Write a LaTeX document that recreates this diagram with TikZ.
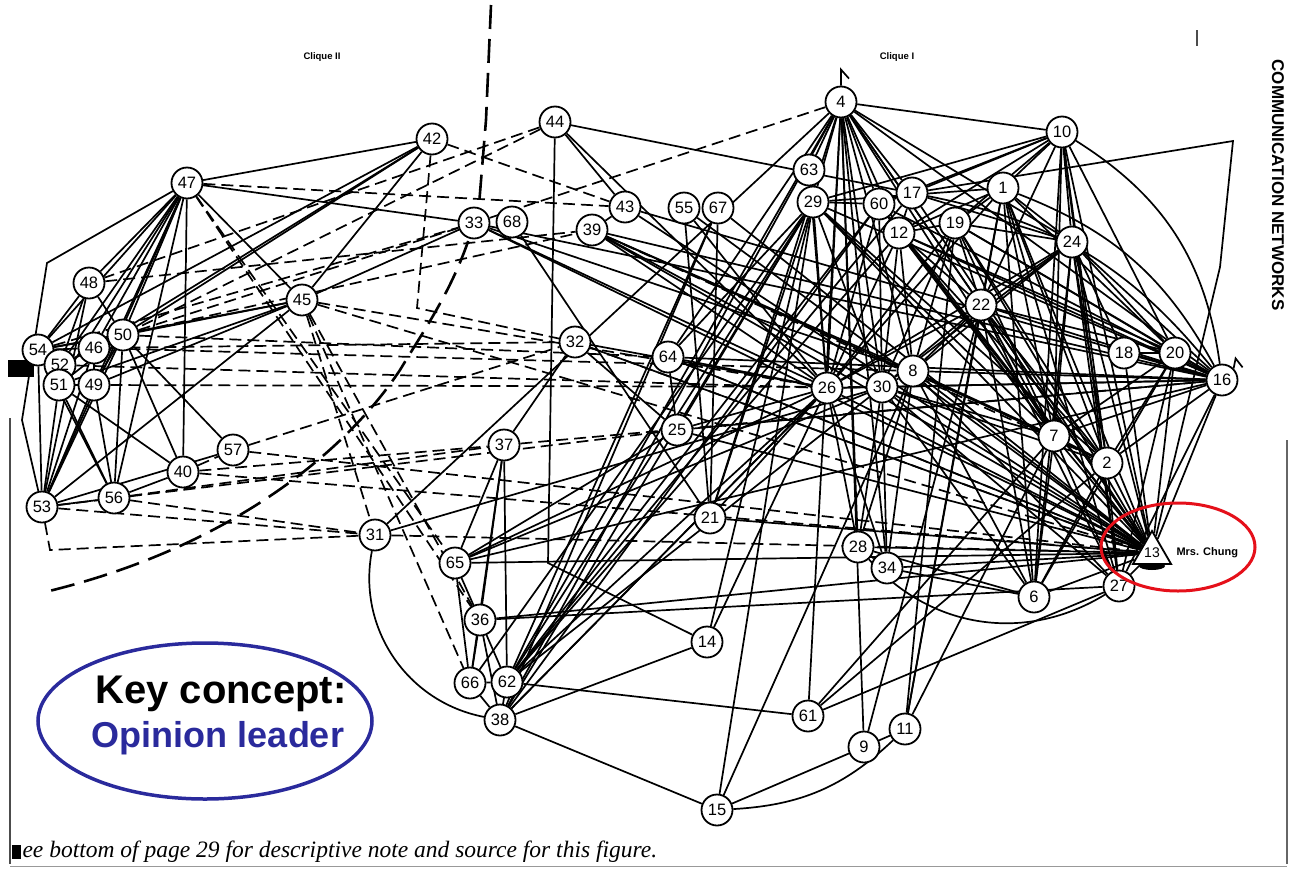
\documentclass[tikz,border=0pt]{standalone}
\usepackage{fontspec}
\usepackage{xcolor}
\usepackage{tikz}
\usetikzlibrary{shapes.geometric,backgrounds}
\newfontfamily\netfont{Liberation Sans}
\newfontfamily\notefont{Liberation Serif}
\definecolor{chungred}{HTML}{E5101A}
\definecolor{keyblue}{HTML}{2A2A9C}
\tikzset{
  person/.style={circle,draw,fill=white,line width=1.8pt,minimum size=31pt,inner sep=0pt,
    font=\netfont\fontsize{16.5}{16.5}\selectfont},
  tie/.style={line width=1.7pt},
  weak/.style={line width=1.7pt,dash pattern=on 12pt off 6pt},
  divide/.style={line width=2.6pt,dash pattern=on 24pt off 10pt},
  cliquename/.style={font=\netfont\bfseries\fontsize{9.5}{9.5}\selectfont},
}

\begin{document}
\begin{tikzpicture}[x=1pt,y=-1pt]
	\useasboundingbox (0,0) rectangle (1290,873);
	% villagers
	\foreach \n/\x/\y in {4/841/102, 44/555/122, 42/432/139, 47/187/183, 10/1062/132,
			63/809/170, 29/813/202, 60/879/204, 17/912/193, 1/1003/188, 19/955/223,
			12/899/233, 24/1072/242, 22/981/305, 43/625/207, 55/684/208, 67/718/208,
			33/474/223, 68/512/222, 39/592/230, 48/89/283, 45/302/300, 50/123/335,
			54/38/350, 46/94/348, 52/60/365, 51/59/385, 49/94/385, 32/575/342,
			64/668/357, 18/1124/353, 20/1175/353, 16/1222/380, 26/827/388, 30/882/387,
			8/913/371, 7/1054/436, 25/677/430, 37/504/445, 2/1107/463, 57/233/450,
			40/183/472, 53/42/507, 56/114/498, 21/710/518, 31/375/535, 28/858/547,
			34/887/568, 65/455/563, 6/1034/597, 27/1119/586, 36/480/620, 14/707/642,
			66/470/683, 62/507/682, 38/500/720, 61/808/716, 11/905/729, 9/864/747,
			15/717/810}
		\node[person] (n\n) at (\x,\y) {\n};
	\node[person,regular polygon,regular polygon sides=3,minimum size=38pt,
		font=\netfont\fontsize{14}{14}\selectfont] (n13) at (1152,553) {13};

	\begin{scope}[on background layer]
		% clique II
		\foreach \a/\b in {47/42, 47/33, 47/48, 47/54, 47/46, 47/52, 47/51, 47/49, 47/50,
				47/53, 47/40, 47/45, 47/56, 42/45, 42/50, 42/46, 42/54, 45/54, 45/50,
				45/51, 45/49, 45/33, 45/53, 48/54, 48/50, 48/53, 48/52, 50/54, 50/46,
				50/49, 50/52, 50/51, 50/53, 50/56, 50/40, 50/57, 54/46, 54/52, 54/51,
				54/53, 54/56, 46/52, 46/49, 46/53, 51/49, 51/53, 51/56, 51/40, 49/53,
				49/56, 53/56, 53/57, 56/40}
			\draw[tie] (n\a) -- (n\b);
		% clique I
		\foreach \a/\b in {33/13, 33/8, 33/16, 33/26, 44/43, 44/26, 44/17, 31/4, 31/30,
				4/10, 4/63, 4/29, 4/60, 4/17, 4/12, 4/24, 4/16, 4/22, 4/26, 4/30, 4/28,
				4/34, 4/13, 4/7, 4/64, 4/62, 4/38, 4/21, 4/8, 4/61, 4/9,
				10/1, 10/19, 10/17, 10/24, 10/13, 10/20, 10/2, 10/7, 10/22, 10/6, 10/27,
				10/12, 10/29, 10/60, 1/19, 1/24, 1/22, 1/13, 1/20, 1/7, 1/2, 1/6, 1/27,
				1/12, 1/29, 1/26, 19/12, 19/22, 19/24, 19/16, 19/13, 19/20, 19/7, 19/2,
				19/30, 19/8, 19/26, 17/12, 17/60, 17/24, 17/13, 12/60, 12/22, 12/26,
				12/30, 12/8, 12/13, 12/7, 12/2, 12/16, 12/20, 60/29, 60/26, 60/30, 60/13,
				60/16, 60/7, 29/63, 29/26, 29/30, 29/21, 29/25, 29/64, 29/13, 29/7, 29/2,
				29/16, 29/38, 29/62, 29/66, 29/15, 29/14, 63/26,
				24/22, 24/16, 24/20, 24/18, 24/13, 24/7, 24/2, 24/27, 24/8, 24/26, 24/30,
				24/6, 22/16, 22/20, 22/13, 22/7, 22/2, 22/8, 22/26, 22/30, 22/6, 22/27,
				22/9, 22/11, 18/20, 18/16, 18/13, 20/16, 20/13, 20/2, 20/7, 20/6, 20/27,
				16/13, 16/2, 16/7, 16/27, 16/26, 16/25, 16/64, 16/30, 16/8,
				26/30, 26/13, 26/28, 26/34, 26/21, 26/25, 26/64, 26/32, 26/62, 26/38,
				30/8, 30/13, 30/28, 30/34, 30/2, 30/7, 30/6, 30/27, 8/13, 8/2, 8/7, 8/6,
				8/28, 8/34, 8/27, 8/15, 7/2, 7/13, 7/6, 7/27, 7/61, 7/11, 2/13, 2/27,
				2/6, 2/61, 13/27, 13/6, 13/28, 13/34, 13/21, 13/25, 13/64, 13/32, 13/39,
				13/65, 13/36, 13/43, 13/55, 13/67, 6/28, 6/34, 28/34, 64/25, 25/65,
				32/25, 32/37, 39/26, 39/30, 39/16, 39/7, 39/8, 55/26, 55/21, 67/21,
				67/62, 67/38, 43/39, 43/16, 68/21, 37/65, 37/36, 37/66, 37/62, 65/36,
				65/66, 65/30, 65/26, 65/16, 36/66, 36/62, 36/38, 36/27, 66/62, 66/38,
				62/38, 62/61, 62/60, 62/17, 62/12, 62/30, 38/15, 38/14, 38/60, 38/26,
				61/27, 14/26, 9/11, 9/15, 11/19, 11/1}
			\draw[tie] (n\a) -- (n\b);
		% weak ties
		\foreach \a/\b in {47/43, 47/36, 47/65, 42/43, 44/48, 44/50, 33/4, 50/39, 50/64,
				50/33, 46/32, 54/33, 48/39, 53/31, 53/25, 56/31, 56/37, 40/37, 40/13,
				40/57, 57/32, 57/13, 45/36, 45/26, 45/13, 45/66, 45/31, 31/13, 37/16,
				52/26, 49/30, 46/8, 64/13, 32/13, 39/2}
			\draw[weak] (n\a) -- (n\b);
		\draw[tie] (n47) -- (47,263) -- (22,420) -- (n53);
		\draw[tie] (n44) -- (548,563) -- (n14);
		\draw[tie] (n17) -- (1233,141) -- (1220,267) -- (n13);
		\draw[weak] (n42) -- (417,308) -- (n32);
		\draw[weak] (n53) -- (50,550) -- (n31);
		\draw[tie] (n31) to[bend right=45] (n38);
		\draw[tie] (n28) to[bend right=40] (n27);
		\draw[tie] (n15) to[bend right=20] (n11);
		\draw[tie] (n10) to[bend left=25] (n16);
		\draw[tie] (n1) to[bend left=20] (n16);
		\draw[tie] (n17) to[bend left=20] (n16);
		\draw[tie] (n4.north) -- ++(0,-16) -- ++(8,9);
		\draw[tie] (n16.north east) -- ++(2,-10) -- ++(7,9);
		\fill (1152,566) ellipse [x radius=13pt, y radius=4pt];
		% line between the cliques
		\draw[divide] (491,5) -- (486,120) -- (479,205)
			.. controls (460,280) and (430,320) .. (400,370)
			.. controls (340,460) and (220,550) .. (45,592);
		% page edges
		\fill (8,360) rectangle (34,377);
		\draw[black!70,line width=2pt] (10,418) -- (10,864);
		\draw[black!60,line width=1.5pt] (1287,440) -- (1287,864);
		\draw[black!40,line width=1pt] (10,866) -- (1287,866);
		\draw[black!70,line width=1.5pt] (1197,30) -- (1197,46);
	\end{scope}

	\node[cliquename] (clique2) at (322,57) {Clique II};
	\node[cliquename] (clique1) at (897,57) {Clique I};
	\node[rotate=-90,font=\netfont\bfseries\fontsize{17}{17}\selectfont] (title) at (1278,185) {COMMUNICATION NETWORKS};
	\node[anchor=west,font=\netfont\bfseries\fontsize{11}{11}\selectfont] (chung) at (1173,553) {Mrs. Chung};
	\node[draw=chungred,line width=3pt,ellipse,minimum width=154pt,minimum height=88pt] (ring) at (1178,547) {};
	\node[draw=keyblue,line width=3.5pt,ellipse,minimum width=334pt,minimum height=156pt] (keyring) at (205,721) {};
	\node[font=\netfont\bfseries\fontsize{40}{40}\selectfont] (key) at (221,694) {Key concept:};
	\node[font=\netfont\bfseries\fontsize{36}{36}\selectfont,text=keyblue] (leader) at (218,738) {Opinion leader};
	\fill (12,845) rectangle (21,859);
	\node[anchor=west,font=\notefont\itshape\fontsize{23.5}{23.5}\selectfont] (note) at (19,852) {ee bottom of page 29 for descriptive note and source for this figure.};
\end{tikzpicture}
\end{document}
